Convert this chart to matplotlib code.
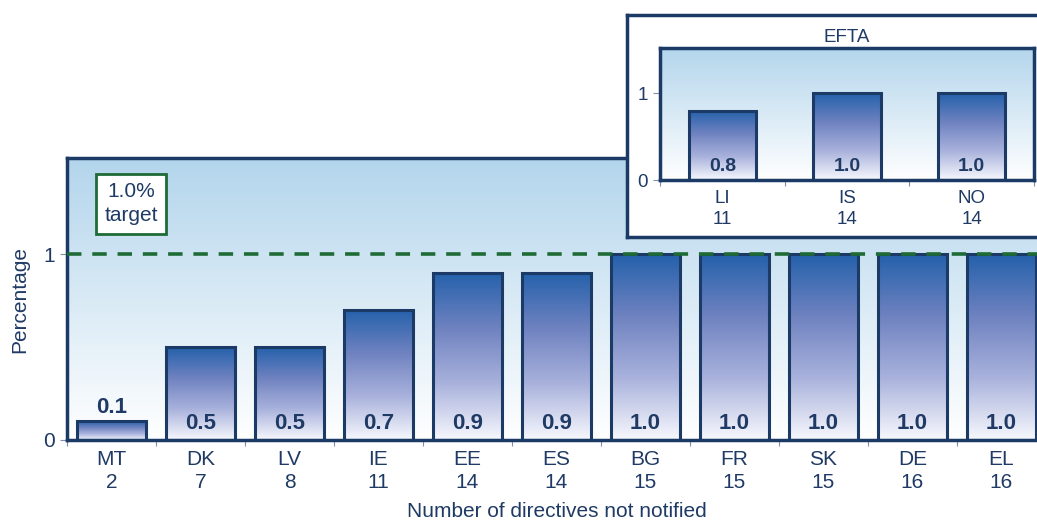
import numpy as np
import matplotlib.pyplot as plt
from matplotlib.colors import LinearSegmentedColormap

# main chart data
countries = ['MT', 'DK', 'LV', 'IE', 'EE', 'ES', 'BG', 'FR', 'SK', 'DE', 'EL']
not_notified = [2, 7, 8, 11, 14, 14, 15, 15, 15, 16, 16]
percent = [0.1, 0.5, 0.5, 0.7, 0.9, 0.9, 1.0, 1.0, 1.0, 1.0, 1.0]

# EFTA inset data
efta_countries = ['LI', 'IS', 'NO']
efta_not_notified = [11, 14, 14]
efta_percent = [0.8, 1.0, 1.0]

target = 1.0

navy = '#1c3a66'
text_col = '#1f3a64'
green = '#1e6b35'

plt.rcParams['font.family'] = ['Liberation Sans', 'DejaVu Sans']

bar_cmap = LinearSegmentedColormap.from_list(
    'bar', ['#f7f8fd', '#a9b2dc', '#6f82c0', '#2461ab'])
bg_cmap = LinearSegmentedColormap.from_list('bg', ['#ffffff', '#b3d5ec'])
grad = np.linspace(0, 1, 256).reshape(-1, 1)


def gradient_bars(ax, labels, values, width, ymax, fs, vfs, lab_y, small_off,
                  pad):
    x = np.arange(len(labels))
    # background gradient
    ax.imshow(grad, extent=[-0.5, len(labels) - 0.5, 0, ymax], origin='lower',
              aspect='auto', cmap=bg_cmap, zorder=0)
    bars = ax.bar(x, values, width, facecolor='none', edgecolor=navy,
                  linewidth=2.2, zorder=3)
    for b, v in zip(bars, values):
        x0 = b.get_x()
        ax.imshow(grad, extent=[x0, x0 + width, 0, v], origin='lower',
                  aspect='auto', cmap=bar_cmap, zorder=2)
        if v >= 0.3:
            ty = lab_y
        else:
            ty = v + small_off
        ax.text(b.get_x() + width / 2, ty, f'{v:.1f}', ha='center',
                va='center', fontsize=vfs, fontweight='bold', color=text_col,
                zorder=4)
    ax.set_xlim(-0.5, len(labels) - 0.5)
    ax.set_ylim(0, ymax)
    ax.set_xticks(np.arange(len(labels) + 1) - 0.5)
    ax.set_xticklabels([])
    ax.set_xticks(x, minor=True)
    ax.tick_params(axis='x', which='major', length=4, color='#8090a8',
                   direction='out')
    ax.tick_params(axis='x', which='minor', length=0, pad=pad)
    ax.set_yticks([0, 1])
    ax.set_yticklabels(['0', '1'])
    ax.tick_params(axis='y', length=5, color='#8090a8', labelcolor=text_col,
                   labelsize=fs)
    for s in ax.spines.values():
        s.set_color(navy)
        s.set_linewidth(2.5)
    return x


fig = plt.figure(figsize=(10.37, 5.23), dpi=100)

ax = fig.add_axes([0.0646, 0.1587, 0.944, 0.539])
x = gradient_bars(ax, countries, percent, 0.78, 1.516, 15, 16, 0.09, 0.075, 7)
ax.set_xticklabels([f'{c}\n{n}' for c, n in zip(countries, not_notified)],
                   minor=True, fontsize=15, color=text_col, linespacing=1.3)
ax.axhline(target, color=green, linewidth=2.6, linestyle=(0, (4, 3)),
           zorder=5)
ax.text(0.22, 1.27, '1.0%\ntarget', ha='center', va='center', fontsize=15,
        color=text_col, linespacing=1.35, zorder=6,
        bbox=dict(boxstyle='square,pad=0.4', facecolor='white',
                  edgecolor=green, linewidth=2))
ax.set_ylabel('Percentage', fontsize=15, color=text_col, labelpad=10)
ax.set_xlabel('Number of directives not notified', fontsize=15,
              color=text_col, labelpad=7)

# EFTA inset frame
frame = fig.add_axes([0.6046, 0.5468, 0.42, 0.4245], zorder=5)
frame.set_facecolor('white')
frame.set_xticks([])
frame.set_yticks([])
for s in frame.spines.values():
    s.set_color(navy)
    s.set_linewidth(2.5)

ins = fig.add_axes([0.6365, 0.6558, 0.3607, 0.2524], zorder=6)
gradient_bars(ins, efta_countries, efta_percent, 0.54, 1.52, 13.5, 14, 0.15,
              0.1, 7)
ins.set_xticklabels([f'{c}\n{n}' for c, n in
                     zip(efta_countries, efta_not_notified)],
                    minor=True, fontsize=13.5, color=text_col, linespacing=1.35)
ins.set_title('EFTA', fontsize=13.5, color=text_col, pad=4)

fig.savefig('out.png', dpi=100)
